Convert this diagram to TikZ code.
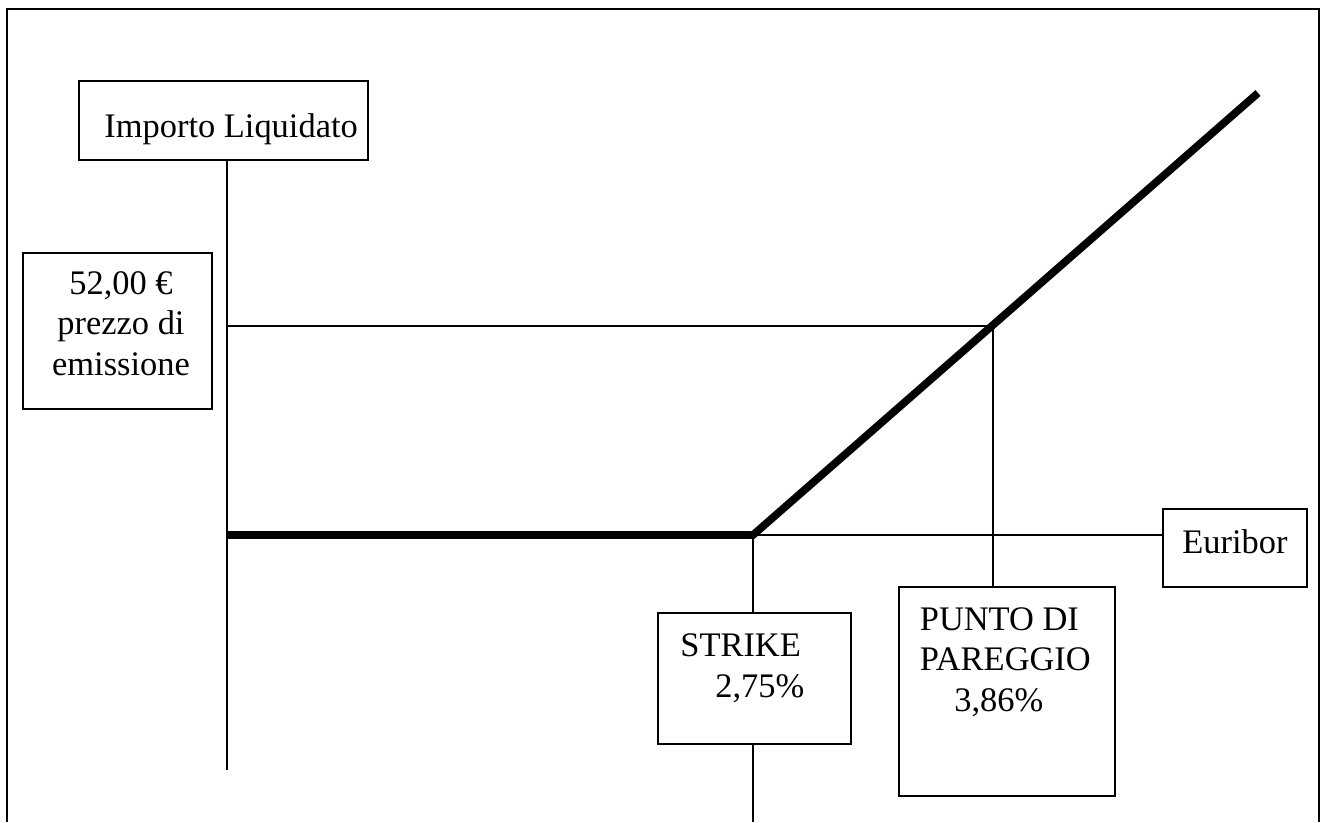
\documentclass[tikz,border=0pt]{standalone}
\usepackage{fontspec}
\setmainfont{Liberation Serif}

\tikzset{
    frame/.style={line width=1.1pt},
    box/.style={draw, line width=0.9pt, inner sep=0pt},
    guide/.style={line width=0.9pt},
    payoff/.style={line width=4.4pt},
    lbl/.style={inner sep=0pt, font=\fontsize{19.6}{22.8}\selectfont}
}

\begin{document}
\begin{tikzpicture}[x=0.02cm, y=-0.02cm]
                \useasboundingbox (0,0) rectangle (1321,822);
                \draw[frame] (7,822) -- (7,9) -- (1319,9) -- (1319,822);

                \node[box, minimum width=5.78cm, minimum height=1.58cm] (importo) at (223.5,120.5) {};
                \node[box, minimum width=3.78cm, minimum height=3.12cm] (prezzo) at (117.5,331) {};
                \node[box, minimum width=3.86cm, minimum height=2.62cm] (strike) at (754.5,678.5) {};
                \node[box, minimum width=4.32cm, minimum height=4.18cm] (pareggio) at (1007,691.5) {};
                \node[box, minimum width=2.88cm, minimum height=1.56cm] (euribor) at (1235,548) {};

                \node[lbl, anchor=base west] (importotxt) at (104,137) {Importo Liquidato};
                \node[lbl, anchor=base, align=center] (prezzotxt) at (121,375) {52,00 €\\prezzo di\\emissione};
                \node[lbl, anchor=base west, align=left] (striketxt) at (680,697) {STRIKE\\\hspace*{0.7cm}2,75\%};
                \node[lbl, anchor=base west, align=left] (pareggiotxt) at (919.5,711) {PUNTO DI\\PAREGGIO\\\hspace*{0.69cm}3,86\%};
                \node[lbl, anchor=base] (euribortxt) at (1235,553) {Euribor};

                \coordinate (axisend) at (227,770);
                \coordinate (level) at (227,326);
                \coordinate (cross) at (993,326);
                \coordinate (kink) at (753,535);
                \coordinate (top) at (1258,93);
                \coordinate (strikeend) at (753,822);

                \draw[guide] (importo.south -| axisend) -- (axisend);
                \draw[guide] (level) -- (cross) -- (cross |- pareggio.north);
                \draw[guide] (kink) -- (kink -| euribor.west);
                \draw[guide] (kink) -- (kink |- strike.north);
                \draw[guide] (kink |- strike.south) -- (strikeend);
                \draw[payoff] (level |- kink) -- (kink) -- (top);
\end{tikzpicture}
\end{document}
